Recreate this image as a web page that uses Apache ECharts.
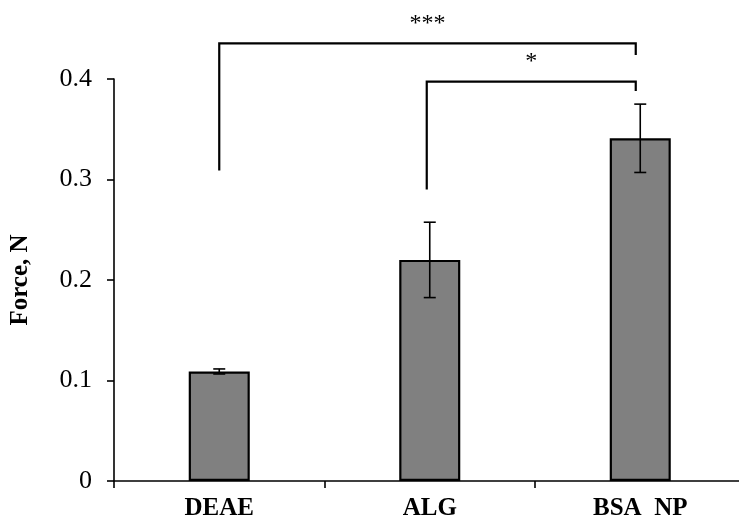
<!DOCTYPE html>
<html>
<head>
<meta charset="utf-8">
<script src="https://cdn.jsdelivr.net/npm/echarts@6/dist/echarts.min.js"></script>
<style>
  html, body { margin: 0; padding: 0; background: #fff; }
  #chart { width: 739px; height: 521px; }
</style>
</head>
<body>
<div id="chart"></div>
<script>
// Adhesion force by coating
const categories = ['DEAE', 'ALG', 'BSA  NP'];
const forceMean = [0.109, 0.220, 0.341];
const forceErr = [0.0025, 0.0375, 0.034];
const yTicks = [0, 0.1, 0.2, 0.3, 0.4];

// Significance brackets: from/to category index, bar-top heights of each leg, label
const bracketFrom = [0, 1];
const bracketTo = [2, 2];
const bracketTop = [0.4355, 0.3973];
const bracketFromBottom = [0.309, 0.290];
const bracketToBottom = [0.424, 0.388];
const bracketLabel = ['***', '*'];

const FONT = '"Liberation Serif", "Times New Roman", serif';

const chart = echarts.init(document.getElementById('chart'), null, { renderer: 'canvas' });

const errData = categories.map((c, i) => [i, forceMean[i] - forceErr[i], forceMean[i] + forceErr[i]]);
const bracketData = bracketFrom.map((f, i) => [f, bracketTo[i], bracketTop[i], bracketFromBottom[i], bracketToBottom[i], i]);

chart.setOption({
  animation: false,
  backgroundColor: '#ffffff',
  grid: { left: 114, width: 631.5, top: 79, bottom: 40, containLabel: false, outerBoundsMode: 'none' },
  xAxis: {
    type: 'category',
    data: categories,
    axisLine: { lineStyle: { color: '#000', width: 1.6 } },
    axisTick: { show: true, alignWithLabel: false, length: 7, lineStyle: { color: '#000', width: 1.6 } },
    axisLabel: { color: '#000', fontFamily: FONT, fontSize: 25, fontWeight: 'bold', margin: 15 }
  },
  yAxis: {
    type: 'value',
    min: 0,
    max: yTicks[yTicks.length - 1],
    interval: 0.1,
    name: 'Force, N',
    nameLocation: 'middle',
    nameGap: 81,
    nameRotate: 90,
    nameTextStyle: { color: '#000', fontFamily: FONT, fontSize: 25, fontWeight: 'bold' },
    axisLine: { show: true, lineStyle: { color: '#000', width: 1.6 } },
    axisTick: { show: true, length: 7, inside: false, lineStyle: { color: '#000', width: 1.6 } },
    splitLine: { show: false },
    axisLabel: {
      color: '#000', fontFamily: FONT, fontSize: 26, margin: 22,
      formatter: v => (v === 0 ? '0' : v.toFixed(1))
    }
  },
  series: [
    {
      type: 'bar',
      data: forceMean,
      barWidth: '29%',
      itemStyle: { color: '#808080', borderColor: '#000', borderWidth: 2.2 },
      z: 2
    },
    {
      type: 'custom',
      data: errData,
      z: 3,
      renderItem: (params, api) => {
        const x = api.value(0);
        const lo = api.coord([x, api.value(1)]);
        const hi = api.coord([x, api.value(2)]);
        const cap = 6;
        const style = { stroke: '#000', lineWidth: 1.6, fill: null };
        return {
          type: 'group',
          children: [
            { type: 'line', shape: { x1: lo[0], y1: lo[1], x2: hi[0], y2: hi[1] }, style },
            { type: 'line', shape: { x1: hi[0] - cap, y1: hi[1], x2: hi[0] + cap, y2: hi[1] }, style },
            { type: 'line', shape: { x1: lo[0] - cap, y1: lo[1], x2: lo[0] + cap, y2: lo[1] }, style }
          ]
        };
      }
    },
    {
      type: 'custom',
      data: bracketData,
      z: 4,
      clip: false,
      renderItem: (params, api) => {
        const a = api.value(0), b = api.value(1), top = api.value(2);
        const p1 = api.coord([a, api.value(3)]);
        const p2 = api.coord([a, top]);
        const p3 = api.coord([b, top]);
        const p4 = api.coord([b, api.value(4)]);
        // right legs sit just left of the bar centre
        p3[0] -= 4.5; p4[0] -= 4.5;
        if (a > 0) { p1[0] -= 3; p2[0] -= 3; }
        return {
          type: 'group',
          children: [
            {
              type: 'polyline',
              shape: { points: [p1, p2, p3, p4] },
              style: { stroke: '#000', lineWidth: 2.2, fill: null }
            },
            {
              type: 'text',
              style: {
                text: bracketLabel[api.value(5)],
                x: (p2[0] + p3[0]) / 2,
                y: p2[1] - 8,
                align: 'center',
                verticalAlign: 'bottom',
                fill: '#000',
                font: '24px ' + FONT
              }
            }
          ]
        };
      }
    }
  ]
});
</script>
</body>
</html>
